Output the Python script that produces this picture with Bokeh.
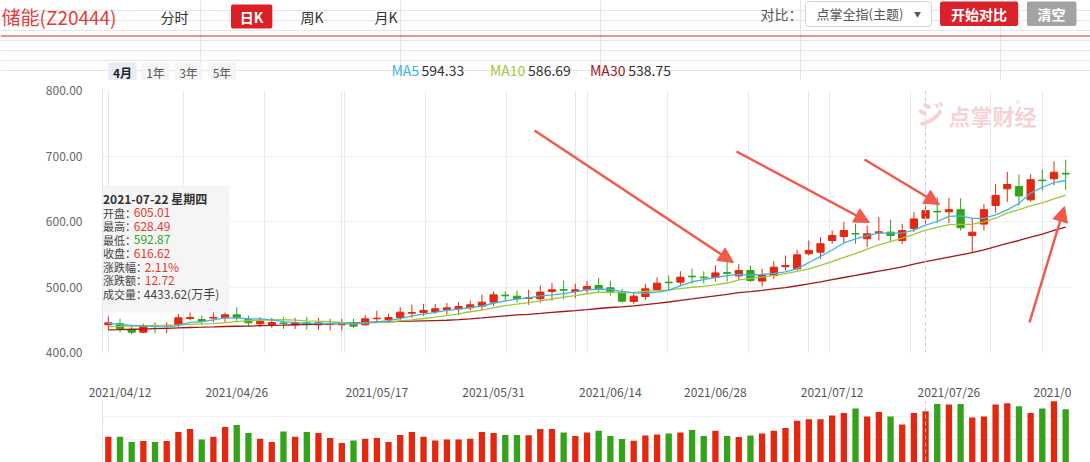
from bokeh.plotting import figure
from bokeh.layouts import column
from bokeh.models import (ColumnDataSource, Range1d, FixedTicker, PrintfTickFormatter,
                          Span, BoxAnnotation, Label, Arrow, NormalHead, Grid)
from bokeh.embed import file_html
from bokeh.resources import INLINE

# ---------------- data ----------------
tick_idx = [1, 11, 23, 33, 43, 52, 62, 72, 82]
tick_labels = ["2021/04/12", "2021/04/26", "2021/05/17", "2021/05/31", "2021/06/14",
               "2021/06/28", "2021/07/12", "2021/07/26", "2021/0"]

opens = [442.3, 443.8, 434.6, 431.0, 441.5, 440.5, 442.3, 452.0, 450.4, 452.5,
         453.0, 457.5, 450.4, 443.8, 442.8, 445.0, 442.3, 445.3, 442.3, 443.3,
         442.3, 443.8, 442.3, 451.5, 450.4, 453.0, 460.0, 461.0, 462.6, 465.2,
         466.7, 468.2, 470.8, 476.9, 487.6, 486.0, 482.5, 482.0, 493.2, 496.0,
         493.2, 495.7, 502.3, 498.8, 492.2, 477.9, 485.5, 496.2, 507.4, 507.4,
         516.5, 515.0, 514.5, 522.0, 517.0, 525.2, 509.0, 517.6, 531.0, 527.8,
         550.7, 553.2, 571.0, 577.1, 581.7, 573.6, 583.0, 583.8, 571.0, 589.5,
         605.01, 615.6, 614.8, 618.0, 578.7, 596.0, 624.5, 649.9, 653.5, 633.1,
         663.1, 665.1, 673.5]
highs = [455.0, 451.4, 441.2, 443.8, 446.3, 446.3, 459.0, 462.6, 456.5, 461.6,
         466.7, 469.0, 456.5, 454.0, 453.0, 454.0, 453.0, 454.0, 453.0, 451.4,
         451.4, 451.4, 457.5, 464.0, 459.0, 469.0, 473.0, 474.0, 474.0, 475.4,
         477.0, 479.4, 488.6, 493.0, 493.7, 494.7, 495.7, 502.3, 505.9, 510.0,
         504.9, 509.0, 514.0, 510.0, 497.2, 490.6, 504.9, 515.0, 517.6, 524.2,
         527.8, 524.0, 532.9, 549.0, 535.4, 532.9, 527.8, 539.5, 548.0, 556.8,
         571.0, 576.1, 586.3, 599.0, 596.5, 594.0, 606.6, 602.6, 596.5, 614.3,
         628.49, 637.2, 636.2, 635.5, 604.0, 626.5, 657.0, 675.8, 671.8, 672.3,
         679.4, 691.6, 694.2]
lows = [434.6, 431.0, 427.5, 429.5, 429.5, 429.5, 438.7, 449.0, 442.3, 446.3,
        446.3, 447.8, 439.7, 438.7, 437.7, 436.0, 436.0, 434.6, 434.6, 433.6,
        433.6, 437.2, 441.2, 446.3, 446.3, 449.0, 453.0, 456.0, 459.0, 457.5,
        457.5, 464.2, 464.2, 470.8, 478.4, 476.9, 472.8, 475.9, 479.4, 481.0,
        483.0, 491.0, 491.0, 487.0, 475.9, 474.3, 480.4, 494.7, 494.7, 500.8,
        504.9, 505.5, 508.5, 508.5, 511.0, 507.4, 500.8, 512.5, 525.2, 525.2,
        548.0, 543.0, 566.0, 567.0, 566.0, 560.8, 571.0, 568.5, 566.0, 583.7,
        592.87, 598.0, 597.5, 586.3, 553.2, 586.3, 613.5, 629.6, 624.5, 630.3,
        647.3, 655.0, 648.3]
closes = [445.3, 435.6, 431.0, 441.2, 440.5, 441.5, 453.0, 453.5, 447.3, 453.5,
          457.5, 453.0, 445.3, 447.3, 445.8, 444.3, 445.3, 442.3, 445.3, 444.3,
          445.3, 440.2, 451.4, 452.4, 453.4, 461.6, 461.0, 464.2, 466.7, 468.2,
          470.3, 472.8, 476.9, 488.0, 486.6, 482.5, 483.5, 492.2, 495.7, 495.2,
          495.7, 500.8, 497.2, 493.2, 478.4, 486.0, 497.2, 505.9, 506.4, 515.0,
          515.5, 514.0, 521.5, 521.0, 525.2, 510.0, 517.6, 530.3, 532.8, 549.1,
          555.8, 566.0, 578.7, 586.3, 581.0, 581.2, 584.2, 578.7, 586.3, 603.9,
          616.62, 614.6, 618.0, 590.4, 583.7, 618.0, 639.7, 656.5, 639.0, 663.8,
          662.3, 675.3, 672.5]
volumes = [2229, 2235, 1771, 1858, 1775, 1860, 2627, 2886, 1996, 2230,
           3059, 3231, 2540, 2056, 1770, 2687, 2228, 2627, 2541, 2117,
           1685, 1909, 2057, 2118, 1772, 2367, 2626, 2231, 1910, 1996,
           1997, 2056, 2628, 2540, 2366, 2368, 2365, 2885, 2887, 2598,
           2281, 2599, 2739, 2282, 2030, 1884, 2341, 2428, 2514, 2597,
           2799, 2280, 2740, 2283, 2195, 2341, 2515, 2738, 2972, 3603,
           3741, 3740, 4061, 4285, 4657, 3974, 4372, 3975, 3283, 4286,
           4433.62, 5063, 5002, 5064, 3888, 3973, 5001, 5115, 4856, 4284,
           4658, 5288, 4605]
ma5 = [444.5, 443.0, 441.5, 440.5, 439.5, 438.8, 441.4, 445.9, 447.2, 449.8,
       453.0, 453.0, 451.3, 451.3, 449.8, 447.1, 445.6, 445.0, 444.6, 444.3,
       444.5, 443.5, 445.3, 446.7, 448.5, 451.8, 456.0, 458.5, 461.4, 464.3,
       466.1, 468.4, 471.0, 475.2, 478.9, 481.4, 483.5, 486.6, 488.1, 489.8,
       492.5, 495.9, 496.9, 496.4, 493.1, 491.1, 490.4, 492.1, 494.8, 502.1,
       508.0, 511.4, 514.5, 517.4, 519.4, 518.3, 519.1, 520.8, 523.2, 528.0,
       537.1, 546.8, 556.5, 567.2, 573.6, 578.6, 582.3, 582.3, 582.3, 586.9,
       594.33, 600.0, 607.9, 608.7, 604.7, 604.9, 610.0, 617.7, 627.4, 643.4,
       652.3, 659.4, 662.6]
ma10 = [439.5, 439.8, 440.2, 440.5, 441.0, 441.5, 442.2, 443.0, 443.6, 444.2,
        445.5, 447.2, 448.6, 449.2, 449.8, 450.1, 449.3, 448.2, 448.0, 447.0,
        445.8, 444.5, 445.2, 445.7, 446.4, 448.2, 449.7, 451.9, 454.1, 456.4,
        458.9, 462.2, 464.8, 468.3, 471.6, 473.7, 476.0, 478.8, 481.7, 484.4,
        486.9, 489.7, 491.7, 492.3, 491.4, 491.8, 493.2, 494.5, 495.6, 497.6,
        499.6, 500.9, 503.3, 506.1, 510.8, 513.2, 515.2, 517.7, 520.3, 523.7,
        527.7, 532.9, 538.7, 545.2, 550.8, 557.9, 564.5, 569.4, 574.7, 580.2,
        586.69, 591.2, 595.1, 595.5, 595.8, 599.4, 605.0, 612.8, 618.0, 624.0,
        628.6, 634.7, 640.1]
ma30 = [434.6, 434.9, 435.5, 435.8, 436.4, 436.9, 437.6, 438.2, 438.6, 439.1,
        439.7, 440.1, 440.4, 440.9, 441.3, 441.8, 442.4, 442.9, 443.4, 443.9,
        444.5, 445.1, 445.7, 446.3, 446.9, 447.5, 448.0, 448.4, 448.8, 449.2,
        450.1, 451.3, 452.8, 454.4, 455.9, 457.3, 458.3, 459.6, 461.2, 462.6,
        463.9, 465.5, 467.2, 468.7, 469.8, 471.2, 473.0, 475.1, 477.1, 479.5,
        481.8, 484.3, 486.6, 488.9, 491.3, 492.9, 494.8, 497.0, 499.2, 501.9,
        504.7, 507.8, 511.2, 514.5, 517.7, 521.0, 524.3, 527.2, 530.6, 535.0,
        538.75, 542.3, 545.7, 548.9, 552.4, 556.8, 561.6, 566.6, 571.0, 576.0,
        580.9, 586.3, 591.3]

y_ticks = [400, 500, 600, 700, 800]
vol_grid_ticks = [2000, 4000]
ma_names = ["MA5", "MA10", "MA30"]
ma_values = ["594.33", "586.69", "538.75"]
crosshair_idx = 70
tip_date = "2021-07-22 星期四"
tip_fields = ["开盘：", "最高：", "最低：", "收盘：", "涨跌幅：", "涨跌额：", "成交量："]
tip_values = ["605.01", "628.49", "592.87", "616.62", "2.11%", "12.72", "4433.62(万手)"]

# ---------------- styles ----------------
FONT = "Noto Sans CJK SC"
UP = "#e2290f"
DOWN = "#34a31a"
MA_COLORS = ["#40b5dc", "#9fc83a", "#a3161c"]
AC = "#f15a4c"
LEFT = 102

n = len(closes)
idx = list(range(n))
colors = [UP if c >= o else DOWN for o, c in zip(opens, closes)]
src = ColumnDataSource(dict(
    x=idx, high=highs, low=lows,
    top=[max(o, c) for o, c in zip(opens, closes)],
    bottom=[min(o, c) for o, c in zip(opens, closes)],
    vol=volumes, color=colors))

# ---------------- header (UI bar); data units == page pixels ----------------
hdr = figure(width=1090, height=80, x_range=Range1d(0, 1090), y_range=Range1d(80, 0),
             toolbar_location=None, output_backend="svg",
             x_axis_location=None, y_axis_location=None,
             min_border_left=0, min_border_right=0, min_border_top=0, min_border_bottom=0)
hdr.outline_line_color = None


def htext(x, y, t, size, color, bold=False, align="left"):
    hdr.add_layout(Label(x=x, y=y, text=t, text_font=FONT, text_font_size=f"{size}px",
                         text_color=color, text_font_style="bold" if bold else "normal",
                         text_align=align, text_baseline="middle"))


def hbox(l, r, t, b, fill, line=None, radius=2):
    hdr.add_layout(BoxAnnotation(left=l, right=r, top=t, bottom=b, fill_color=fill,
                                 fill_alpha=1, line_color=line, line_alpha=1 if line else 0,
                                 border_radius=radius, level="underlay"))


htext(1, 16, "储能(Z20444)", 19, "#e23d3d")
htext(160, 16, "分时", 14, "#333333")
hbox(230.5, 271.8, 4, 28, "#dc1f26")
htext(251, 16, "日K", 14, "#ffffff", bold=True, align="center")
htext(300, 16, "周K", 14, "#333333")
htext(374, 16, "月K", 14, "#333333")
hbox(0, 1090, 35, 36, "#e02a2a", radius=0)

htext(760, 13, "对比：", 14, "#555555")
hbox(805, 931, 1, 26, "#ffffff", line="#d2d2d2", radius=3)
htext(816, 13, "点掌全指(主题)", 13, "#555555")
htext(917, 13, "▼", 7, "#555555", align="center")
hbox(939.5, 1017.7, 1, 25.5, "#d9222c")
htext(978.6, 13, "开始对比", 14, "#ffffff", bold=True, align="center")
hbox(1026.4, 1076, 1, 25.5, "#a3a3a3")
htext(1051, 13, "清空", 14, "#ffffff", bold=True, align="center")

period_btns = ["4月", "1年", "3年", "5年"]
btn_left = [108, 141, 174, 207.5]
for i, (t, l) in enumerate(zip(period_btns, btn_left)):
    hbox(l, l + 28, 62, 82, "#e7ecf5" if i == 0 else "#f5f5f5", radius=2)
    htext(l + 14, 72, t, 12, "#222222" if i == 0 else "#555555", bold=(i == 0), align="center")

ma_x = [391, 489.4, 589.5]
val_x = [421, 527.6, 627.7]
for nm, vv, x0, x1, col in zip(ma_names, ma_values, ma_x, val_x, MA_COLORS):
    htext(x0, 69.5, nm, 14, col)
    htext(x1, 69.5, vv, 14, "#333333")

# ---------------- main candlestick chart ----------------
p = figure(width=1071, height=296, x_range=Range1d(-0.5, n - 0.5), y_range=Range1d(400, 800),
           toolbar_location=None, output_backend="svg", x_axis_location=None,
           min_border_left=LEFT, min_border_right=0, min_border_top=10, min_border_bottom=24)
p.outline_line_color = None
p.yaxis.ticker = FixedTicker(ticks=y_ticks)
p.yaxis.formatter = PrintfTickFormatter(format="%.2f")
p.yaxis.major_tick_line_color = None
p.yaxis.minor_tick_line_color = None
p.yaxis.axis_line_color = "#d9dfeb"
p.yaxis.major_label_text_color = "#666666"
p.yaxis.major_label_text_font = FONT
p.yaxis.major_label_text_font_size = "12px"
p.yaxis.major_label_standoff = 14
p.ygrid.grid_line_color = "#edf0f5"
p.ygrid.ticker = FixedTicker(ticks=y_ticks)
vgrid = [-0.5 + k * n / 12 for k in range(13)]
p.add_layout(Grid(dimension=0, ticker=FixedTicker(ticks=vgrid), grid_line_color="#e6ebf3"))

unit = 969 / n


def px2x(px):
    return (px - LEFT) / unit - 0.5


def py2y(py):
    return 800 - (py - 90) * 400 / 262


p.add_layout(Span(location=crosshair_idx, dimension="height", line_color="#c9c9c9",
                  line_dash="4 3", line_width=1))

p.segment(x0="x", y0="low", x1="x", y1="high", color="color", line_width=1, source=src)
p.vbar(x="x", width=0.62, top="top", bottom="bottom", fill_color="color",
       line_color="color", line_width=1, source=src)
for vals, col in zip([ma30, ma10, ma5], [MA_COLORS[2], MA_COLORS[1], MA_COLORS[0]]):
    p.line(idx, vals, line_color=col, line_width=1.3)

wm = "#f6d3d3"
p.add_layout(Label(x=px2x(916), y=py2y(112), text="ジ", text_font=FONT, text_font_size="28px",
                   text_font_style="bold", text_color=wm, text_baseline="middle"))
p.add_layout(Label(x=px2x(948), y=py2y(114), text="点掌财经", text_font=FONT,
                   text_font_size="22px", text_font_style="bold", text_color=wm,
                   text_baseline="middle"))
p.add_layout(Label(x=px2x(1015), y=py2y(103), text="®", text_font=FONT, text_font_size="9px",
                   text_color=wm, text_baseline="middle"))

arrows = [((534, 130), (733, 262)), ((736, 151), (869, 222)),
          ((864, 159), (939, 204)), ((1029, 322), (1064, 206))]
for (sx, sy), (ex, ey) in arrows:
    p.add_layout(Arrow(x_start=px2x(sx), y_start=py2y(sy), x_end=px2x(ex), y_end=py2y(ey),
                       line_color=AC, line_width=2.5,
                       end=NormalHead(size=15, fill_color=AC, line_color=AC, line_width=1)))

p.add_layout(BoxAnnotation(left=px2x(95), right=px2x(229), top=py2y(185), bottom=py2y(312),
                           fill_color="#f5f5f5", fill_alpha=0.96, line_color=None))
p.add_layout(Label(x=px2x(102.5), y=py2y(198), text=tip_date, text_font=FONT,
                   text_font_size="12px", text_font_style="bold", text_color="#333333",
                   text_baseline="middle"))
row_y = [212, 225.5, 239, 252.5, 266, 279.5, 293]
val_x_tip = [133.3, 133.3, 133.3, 133.3, 144.3, 144.3, 143.3]
val_cols = ["#e8392b", "#e8392b", "#2ea52a", "#e8392b", "#e8392b", "#e8392b", "#444444"]
for f, vv, yy, xx, cc in zip(tip_fields, tip_values, row_y, val_x_tip, val_cols):
    p.add_layout(Label(x=px2x(102.5), y=py2y(yy), text=f, text_font=FONT, text_font_size="11px",
                       text_color="#444444", text_baseline="middle"))
    p.add_layout(Label(x=px2x(xx), y=py2y(yy), text=vv, text_font=FONT, text_font_size="12px",
                       text_color=cc, text_baseline="middle"))

# ---------------- volume chart ----------------
v = figure(width=1071, height=86, x_range=p.x_range, y_range=Range1d(0, 5357),
           toolbar_location=None, output_backend="svg", x_axis_location="above",
           min_border_left=LEFT, min_border_right=0, min_border_top=24, min_border_bottom=0)
v.outline_line_color = None
v.xaxis.ticker = FixedTicker(ticks=tick_idx)
v.xaxis.major_label_overrides = {i: t for i, t in zip(tick_idx, tick_labels)}
v.xaxis.axis_line_color = None
v.xaxis.major_tick_line_color = None
v.xaxis.minor_tick_line_color = None
v.xaxis.major_tick_out = 0
v.xaxis.major_tick_in = 0
v.xaxis.major_label_standoff = 1
v.xaxis.major_label_text_font = FONT
v.xaxis.major_label_text_font_size = "12px"
v.xaxis.major_label_text_color = "#555555"
v.xgrid.visible = False
v.yaxis.ticker = FixedTicker(ticks=[])
v.yaxis.major_label_text_font_size = "0px"
v.yaxis.major_tick_line_color = None
v.yaxis.minor_tick_line_color = None
v.yaxis.axis_line_color = "#d9dfeb"
v.ygrid.ticker = FixedTicker(ticks=vol_grid_ticks)
v.ygrid.grid_line_color = "#edf0f5"
v.add_layout(Span(location=n - 0.5, dimension="height", line_color="#e0e5ee", line_width=1))
v.add_layout(Span(location=crosshair_idx, dimension="height", line_color="#c9c9c9",
                  line_dash="4 3", line_width=1))
v.vbar(x="x", width=0.54, top="vol", bottom=0, fill_color="color", line_color=None, source=src)

layout = column(hdr, column(p, v, spacing=0), spacing=0)
open("out.html", "w").write(file_html(layout, INLINE))
